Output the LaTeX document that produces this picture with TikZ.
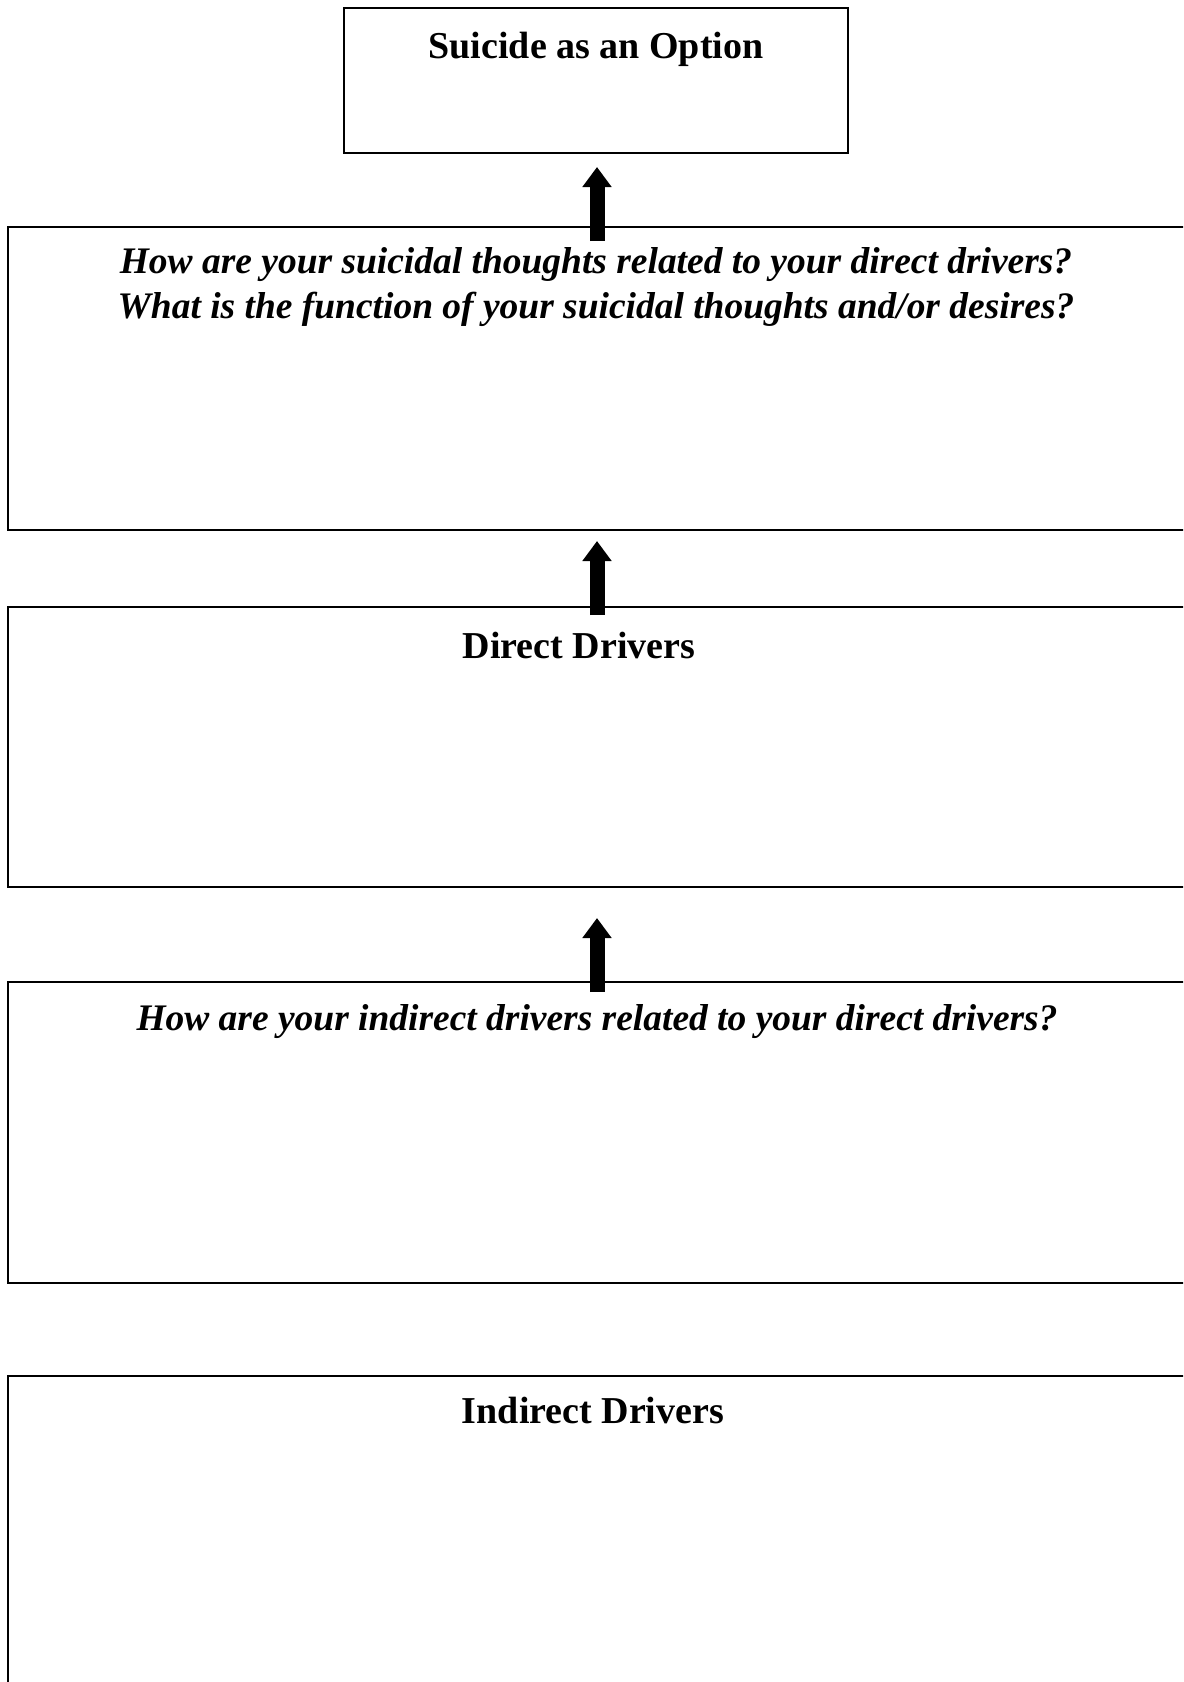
\documentclass[tikz,border=0pt]{standalone}
\usepackage{fontspec}
\setmainfont{Liberation Serif}
\usetikzlibrary{arrows.meta,calc}

\tikzset{every picture/.style={line width=0.75pt}}
\tikzset{
  box/.style={draw, rectangle, line width=1.5pt, inner sep=0pt, outer sep=0pt, anchor=north west},
  uparrow/.style={line width=11.25pt, -{Triangle[length=15pt,width=21pt]}},
  heading/.style={anchor=base, inner sep=0.75pt, font=\fontsize{28.5}{33.75}\selectfont\bfseries},
  question/.style={anchor=base, inner sep=0.75pt, font=\fontsize{28.1}{33.75}\selectfont\bfseries\itshape},
}

\begin{document}
\begin{tikzpicture}[x=0.75pt,y=0.75pt,yscale=-1,xscale=1]
\useasboundingbox (0,0) rectangle (1183,1682);
\clip (0,0) rectangle (1183,1682);

%Shape: Rectangle [id:opt] 
\node[box, minimum width=378pt, minimum height=108.75pt] (opt) at (344,8) {};
%Shape: Rectangle [id:fn] 
\node[box, minimum width=894pt, minimum height=227.25pt] (fn) at (8,227) {};
%Shape: Rectangle [id:dir] 
\node[box, minimum width=894pt, minimum height=210pt] (dir) at (8,607) {};
%Shape: Rectangle [id:rel] 
\node[box, minimum width=894pt, minimum height=225.75pt] (rel) at (8,982) {};
%Shape: Rectangle [id:ind] 
\node[box, minimum width=894pt, minimum height=243pt] (ind) at (8,1376) {};

% arrow axis
\coordinate (ax) at (597,0);

%Straight Lines [id:up1] 
\draw[uparrow] ($(fn.north -| ax)+(0,14)$) -- ($(opt.south -| ax)+(0,14)$);
%Straight Lines [id:up2] 
\draw[uparrow] ($(dir.north -| ax)+(0,8)$) -- ($(fn.south -| ax)+(0,11)$);
%Straight Lines [id:up3] 
\draw[uparrow] ($(rel.north -| ax)+(0,10)$) -- ($(dir.south -| ax)+(0,31)$);

% Text Node
\node[heading] (optT) at (596,58) {Suicide as an Option};
% Text Node
\node[question] (fnA) at (596,273) {How are your suicidal thoughts related to your direct drivers?};
% Text Node
\node[question] (fnB) at (596,318) {What is the function of your suicidal thoughts and/or desires?};
% Text Node
\node[heading] (dirT) at (579,658) {Direct Drivers};
% Text Node
\node[question] (relT) at (597,1030) {How are your indirect drivers related to your direct drivers?};
% Text Node
\node[heading] (indT) at (593,1423) {Indirect Drivers};

\end{tikzpicture}
\end{document}
